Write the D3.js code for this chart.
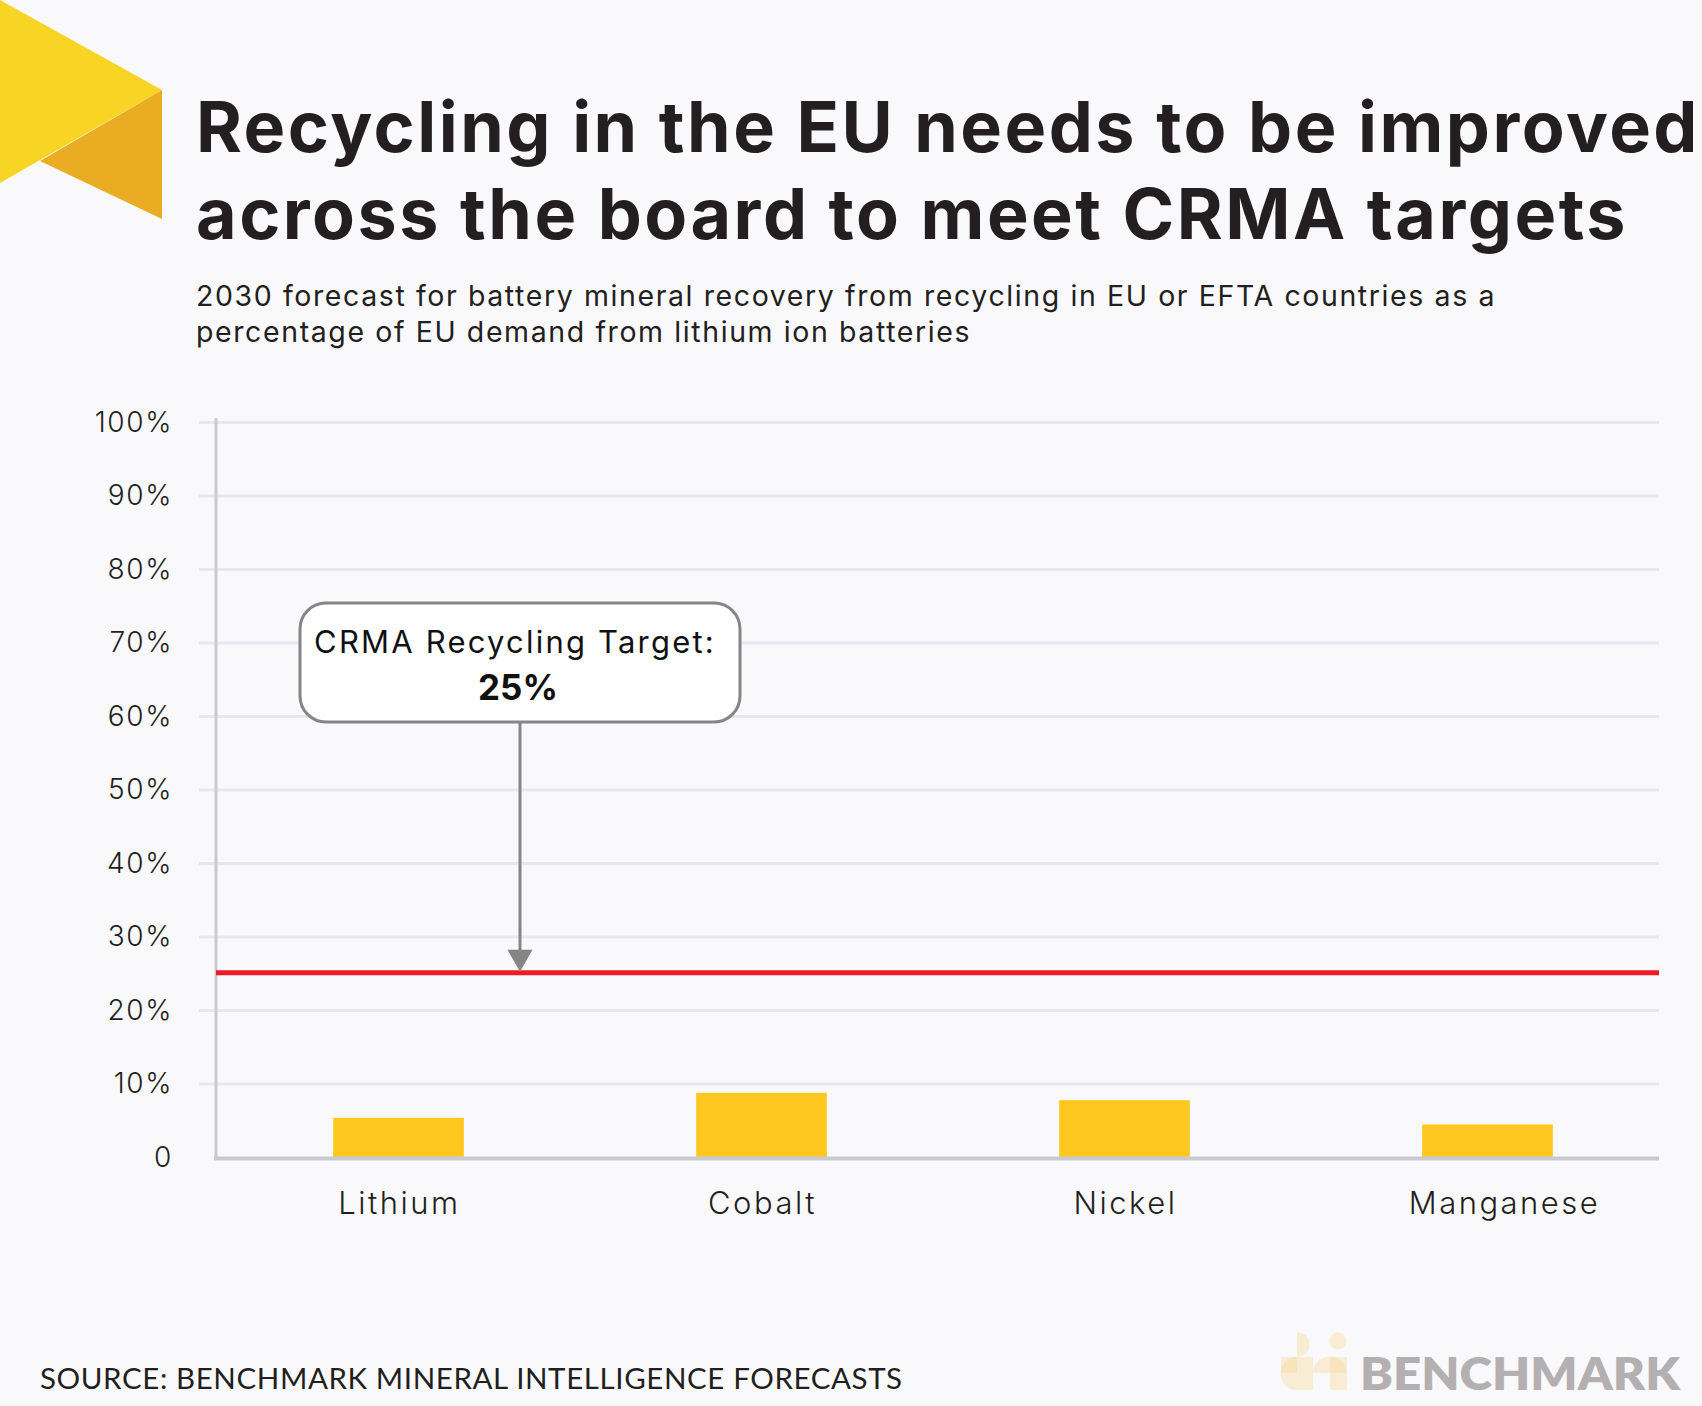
<!DOCTYPE html>
<html>
<head>
<meta charset="utf-8">
<script src="https://cdn.jsdelivr.net/npm/d3@7"></script>
<style>
  body { margin: 0; background: #f9f9fb; }
  svg { display: block; }
  text { font-family: Inter, "Noto Sans", sans-serif; }
</style>
</head>
<body>
<div id="chart"></div>
<script>
// data
var minerals = ["Lithium", "Cobalt", "Nickel", "Manganese"];
var recovery = [5.4, 8.8, 7.8, 4.5];
var yTicks = [0, 10, 20, 30, 40, 50, 60, 70, 80, 90, 100];
var target = 25;

var titleLines = ["Recycling in the EU needs to be improved", "across the board to meet CRMA targets"];
var subtitleLines = ["2030 forecast for battery mineral recovery from recycling in EU or EFTA countries as a",
                     "percentage of EU demand from lithium ion batteries"];

var W = 1702, H = 1406;
var ink = "#231f20";

var svg = d3.select("#chart").append("svg")
    .attr("width", W)
    .attr("height", H);

svg.append("rect").attr("width", W).attr("height", H).attr("fill", "#f9f9fb");

// corner logo triangles
svg.append("path").attr("d", "M0,0 L162,90 L0,183 Z").attr("fill", "#f8d525");
svg.append("path").attr("d", "M162,90 L162,219 L40,161 Z").attr("fill", "#e9ac22");

// title + subtitle
svg.selectAll("text.title").data(titleLines).enter().append("text")
    .attr("class", "title")
    .attr("x", 196)
    .attr("y", function(d, i) { return 152 + i * 87; })
    .attr("font-size", 70)
    .attr("font-weight", 700)
    .attr("letter-spacing", 2.5)
    .attr("fill", ink)
    .text(function(d) { return d; });

svg.selectAll("text.sub").data(subtitleLines).enter().append("text")
    .attr("class", "sub")
    .attr("x", 196)
    .attr("y", function(d, i) { return 306 + i * 36; })
    .attr("font-size", 28.5)
    .attr("font-weight", 400)
    .attr("letter-spacing", 1.6)
    .attr("fill", ink)
    .text(function(d) { return d; });

// scales
var yScale = d3.scaleLinear().domain([0, 100]).range([1157.5, 422.5]);
var xScale = d3.scaleBand().domain(minerals).range([217, 1669])
    .paddingInner(0.64).paddingOuter(0.32);

// gridlines
svg.append("g").selectAll("line").data(yTicks.slice(1)).enter().append("line")
    .attr("x1", 199).attr("x2", 1659)
    .attr("y1", function(d) { return yScale(d); })
    .attr("y2", function(d) { return yScale(d); })
    .attr("stroke", "#e7e8ef")
    .attr("stroke-width", 3);

// y tick labels
var yAxis = d3.axisLeft(yScale)
    .tickValues(yTicks)
    .tickSize(0)
    .tickPadding(0)
    .tickFormat(function(d) { return d === 0 ? "0" : d + "%"; });

var yG = svg.append("g").attr("transform", "translate(173,0)").call(yAxis);
yG.select(".domain").remove();
yG.selectAll("text")
    .attr("font-size", 28)
    .attr("font-weight", 300)
    .attr("letter-spacing", 1.6)
    .attr("fill", ink)
    .style("font-family", "Inter, sans-serif");

// vertical axis line
svg.append("line")
    .attr("x1", 216).attr("x2", 216)
    .attr("y1", 418).attr("y2", yScale(0) + 2)
    .attr("stroke", "#c9c9d1").attr("stroke-width", 3);

// bars
svg.append("g").selectAll("rect").data(minerals).enter().append("rect")
    .attr("x", function(d) { return xScale(d); })
    .attr("width", xScale.bandwidth())
    .attr("y", function(d, i) { return yScale(recovery[i]); })
    .attr("height", function(d, i) { return yScale(0) - yScale(recovery[i]); })
    .attr("fill", "#fec820");

// baseline
svg.append("line")
    .attr("x1", 214).attr("x2", 1659)
    .attr("y1", yScale(0) + 1).attr("y2", yScale(0) + 1)
    .attr("stroke", "#c9c9d1").attr("stroke-width", 4);

// category labels (the last one sits a little right of its bar in the original)
svg.append("g").selectAll("text").data(minerals).enter().append("text")
    .attr("x", function(d) { return xScale(d) + xScale.bandwidth() / 2; })
    .attr("dx", function(d, i) { return i === minerals.length - 1 ? 17 : 1; })
    .attr("y", 1214)
    .attr("text-anchor", "middle")
    .attr("font-size", 31)
    .attr("font-weight", 300)
    .attr("letter-spacing", 2.5)
    .attr("fill", ink)
    .text(function(d) { return d; });

// target line
svg.append("line")
    .attr("x1", 216).attr("x2", 1659)
    .attr("y1", yScale(target) - 1).attr("y2", yScale(target) - 1)
    .attr("stroke", "#ed1c24").attr("stroke-width", 5);

// annotation arrow
var ax = 520;
var tipY = yScale(target) - 2;
svg.append("line")
    .attr("x1", ax).attr("x2", ax)
    .attr("y1", 722).attr("y2", tipY - 20)
    .attr("stroke", "#858585").attr("stroke-width", 3);
svg.append("path")
    .attr("d", "M" + (ax - 12.5) + "," + (tipY - 22) + " L" + (ax + 12.5) + "," + (tipY - 22) +
               " L" + ax + "," + tipY + " Z")
    .attr("fill", "#858585");

// annotation box
svg.append("rect")
    .attr("x", 300).attr("y", 603)
    .attr("width", 440).attr("height", 119)
    .attr("rx", 26).attr("ry", 26)
    .attr("fill", "#ffffff")
    .attr("stroke", "#858585").attr("stroke-width", 3);
svg.append("text")
    .attr("x", 515).attr("y", 653)
    .attr("text-anchor", "middle")
    .attr("font-size", 31)
    .attr("font-weight", 400)
    .attr("letter-spacing", 2.2)
    .attr("fill", "#111")
    .text("CRMA Recycling Target:");
svg.append("text")
    .attr("x", 518).attr("y", 700)
    .attr("text-anchor", "middle")
    .attr("font-size", 35)
    .attr("font-weight", 700)
    .attr("fill", "#111")
    .text(target + "%");

// source
svg.append("text")
    .attr("x", 40).attr("y", 1389)
    .attr("font-size", 29.5)
    .attr("letter-spacing", 0.6)
    .style("font-family", "Lato, sans-serif")
    .attr("fill", ink)
    .text("SOURCE: BENCHMARK MINERAL INTELLIGENCE FORECASTS");

// benchmark logo
var logo = svg.append("g").attr("fill", "#f7d38f").attr("fill-opacity", 0.35);
logo.append("path").attr("d", "M1297,1332 A12.5,12.5 0 0 1 1297,1357 Z");
logo.append("circle").attr("cx", 1338).attr("cy", 1341).attr("r", 8.5);
logo.append("path").attr("d", "M1297,1357 A16.5,16.5 0 0 0 1297,1390 Z");
logo.append("rect").attr("x", 1297).attr("y", 1357).attr("width", 16).attr("height", 33);
logo.append("path").attr("d", "M1313,1373 A16.5,16.5 0 0 1 1346,1373 Z");
logo.append("rect").attr("x", 1330).attr("y", 1357).attr("width", 17).attr("height", 33);
logo.append("rect").attr("x", 1281).attr("y", 1357).attr("width", 16).attr("height", 16);

svg.append("text")
    .attr("x", 1360).attr("y", 1390)
    .attr("font-size", 46)
    .attr("font-weight", 800)
    .attr("fill", "#b4b0b1")
    .style("font-family", "Lato, sans-serif")
    .attr("textLength", 320)
    .attr("lengthAdjust", "spacingAndGlyphs")
    .text("BENCHMARK");
</script>
</body>
</html>
